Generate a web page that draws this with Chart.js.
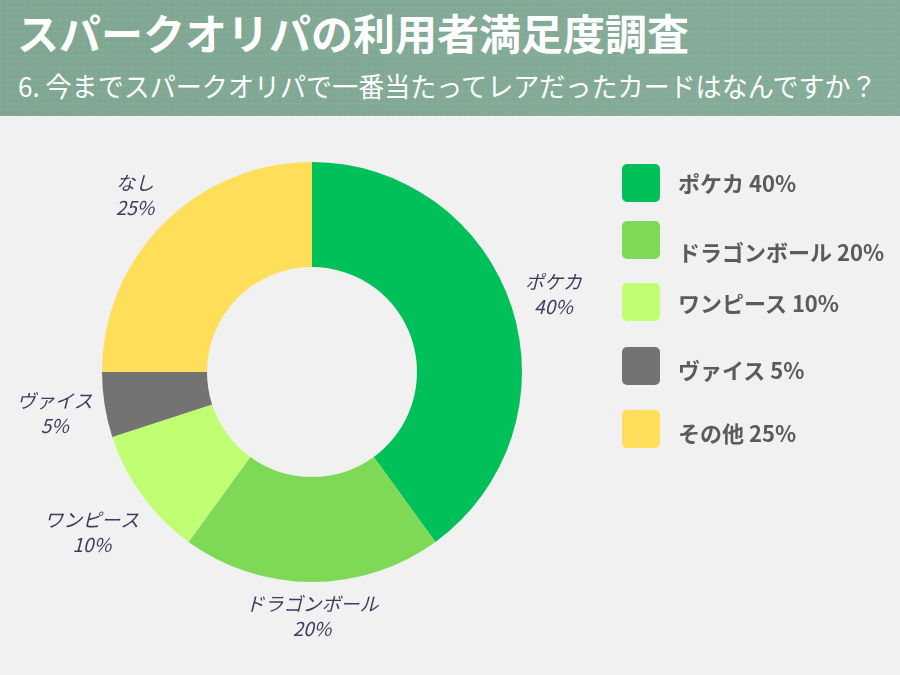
<!doctype html>
<html lang="ja">
<head>
<meta charset="utf-8">
<title>スパークオリパの利用者満足度調査</title>
<script src="https://cdn.jsdelivr.net/npm/chart.js"></script>
<style>
    body { margin: 0; width: 900px; height: 675px; background: #f1f1f1; position: relative; overflow: hidden;
           font-family: "Noto Sans CJK JP", "Noto Sans", sans-serif; }
    #header { position: absolute; left: 0; top: 0; width: 900px; height: 116px;
              background-image:
                repeating-linear-gradient(0deg, rgba(255,255,255,0.035) 0 1px, transparent 1px 6px),
                repeating-linear-gradient(90deg, rgba(255,255,255,0.035) 0 1px, transparent 1px 6px),
                linear-gradient(90deg, #7ea691, #84ac97); }
    #title { position: absolute; left: 17px; top: 1px; color: #fff; font-size: 42px; font-weight: 700; white-space: nowrap; }
    #subtitle { position: absolute; left: 18px; top: 66px; color: #fff; font-size: 27px; font-weight: 400; white-space: nowrap;
                transform: scaleX(0.965); transform-origin: left top; }
    #chart_box { position: absolute; left: 0; top: 0; width: 900px; height: 675px; }
    #legend { position: absolute; left: 622px; top: 0; }
    .item { position: absolute; left: 0; width: 280px; height: 38px; }
    .box { position: absolute; left: 0; top: 0; width: 38px; height: 38px; border-radius: 5px; }
    .txt { position: absolute; left: 56px; top: 2px; font-size: 22px; font-weight: 700; color: #5b5b5b; white-space: nowrap; }
</style>
</head>
<body>
<div id="header">
    <div id="title">スパークオリパの利用者満足度調査</div>
    <div id="subtitle">6. 今までスパークオリパで一番当たってレアだったカードはなんですか？</div>
</div>
<div id="chart_box"><canvas id="chart"></canvas></div>
<div id="legend"></div>
<script>
    const slice_labels = ["ポケカ", "ドラゴンボール", "ワンピース", "ヴァイス", "なし"];
    const legend_names = ["ポケカ", "ドラゴンボール", "ワンピース", "ヴァイス", "その他"];
    const percents = [40, 20, 10, 5, 25];
    const colors = ["#00c05a", "#7ed957", "#c1ff72", "#737373", "#ffde59"];
    const legend_tops = [164, 221, 283, 347, 410];
    const legend_text_shift = [0, 12, 1, 4, 4];

    // 凡例
    const legend = document.getElementById('legend');
    for (let i = 0; i < legend_names.length; i++) {
        let item = document.createElement('div');
        item.className = 'item';
        item.style.top = legend_tops[i] + 'px';
        let box = document.createElement('div');
        box.className = 'box';
        box.style.background = colors[i];
        let txt = document.createElement('div');
        txt.className = 'txt';
        txt.innerText = legend_names[i] + " " + percents[i] + "%";
        txt.style.top = (2 + legend_text_shift[i]) + 'px';
        item.appendChild(box);
        item.appendChild(txt);
        legend.appendChild(item);
    }

    // 外側ラベル (テキストの箱が円から一定の距離になるように置く)
    const outsideLabels = {
        id: 'outsideLabels',
        afterDatasetsDraw(chart) {
            const ctx = chart.ctx;
            const meta = chart.getDatasetMeta(0);
            ctx.save();
            ctx.fillStyle = '#3c3c5e';
            ctx.font = 'italic 19px "Noto Sans CJK JP", sans-serif';
            ctx.textAlign = 'center';
            ctx.textBaseline = 'middle';
            meta.data.forEach((arc, i) => {
                const mid = (arc.startAngle + arc.endAngle) / 2;
                const dx = Math.cos(mid), dy = Math.sin(mid);
                const w = Math.max(ctx.measureText(slice_labels[i]).width, ctx.measureText(percents[i] + "%").width) / 2;
                const h = 25;
                const r = arc.outerRadius + 9 + Math.abs(dx) * w + Math.abs(dy) * h;
                const x = arc.x + dx * r;
                const y = arc.y + dy * r;
                ctx.fillText(slice_labels[i], x, y - 12);
                ctx.fillText(percents[i] + "%", x, y + 13);
            });
            ctx.restore();
        }
    };

    new Chart(document.getElementById('chart'), {
        type: 'doughnut',
        data: {
            labels: slice_labels,
            datasets: [{
                data: percents,
                backgroundColor: colors,
                borderWidth: 0
            }]
        },
        options: {
            responsive: true,
            maintainAspectRatio: false,
            animation: false,
            cutout: '50%',
            layout: { padding: { left: 102, right: 378, top: 162, bottom: 93 } },
            plugins: {
                legend: { display: false },
                tooltip: { enabled: false }
            }
        },
        plugins: [outsideLabels]
    });
</script>
</body>
</html>
